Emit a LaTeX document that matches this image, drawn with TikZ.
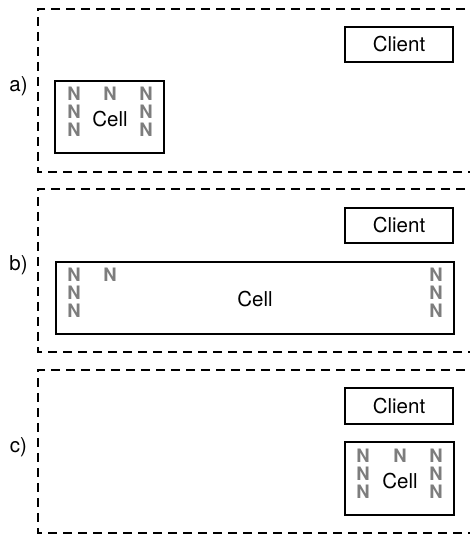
\documentclass[tikz,border=0pt]{standalone}
\usepackage{fontspec}
\setmainfont{TeX Gyre Heros}
\definecolor{ngray}{RGB}{125,125,125}
\begin{document}
\begin{tikzpicture}[x=1pt,y=1pt,
  panel/.style={line width=1.3pt,dash pattern=on 9pt off 6pt},
  boxstyle/.style={draw,line width=1.2pt,rectangle,inner sep=0pt},
  nlab/.style={text=ngray,font=\fontsize{18.5}{18.5}\selectfont\bfseries,inner sep=0pt},
  txt/.style={font=\fontsize{20.5}{20.5}\selectfont,inner sep=0pt},
  lab/.style={font=\fontsize{20.5}{20.5}\selectfont,inner sep=0pt}]
\useasboundingbox (0,0) rectangle (470,536);
\clip (0,0) rectangle (470,536);
% panel a
\draw[panel] (480,527) -- (38,527) -- (38,364) -- (480,364);
\node[lab] (la) at (18.5,450) {a)};
\node[boxstyle,minimum width=108,minimum height=35] (clienta) at (399,491.5) {};
\node[txt] (clientat) at (clienta.center) {Client};
\node[boxstyle,minimum width=109,minimum height=72] (cella) at (109.5,419) {};
\node[txt] (cellat) at (110,417) {Cell};
\node[nlab] (a11) at (74,442) {N};
\node[nlab] (a21) at (74,424) {N};
\node[nlab] (a31) at (74,406) {N};
\node[nlab] (a12) at (110,442) {N};
\node[nlab] (a13) at (146,442) {N};
\node[nlab] (a23) at (146,424) {N};
\node[nlab] (a33) at (146,406) {N};
% panel b
\draw[panel] (480,347) -- (38,347) -- (38,184) -- (480,184);
\node[lab] (lb) at (18.5,271) {b)};
\node[boxstyle,minimum width=108,minimum height=35] (clientb) at (399,310.5) {};
\node[txt] (clientbt) at (clientb.center) {Client};
\node[boxstyle,minimum width=398,minimum height=72] (cellb) at (255,238) {};
\node[txt] (cellbt) at (255,237) {Cell};
\node[nlab] (b11) at (74,261) {N};
\node[nlab] (b21) at (74,243) {N};
\node[nlab] (b31) at (74,225) {N};
\node[nlab] (b12) at (110,261) {N};
\node[nlab] (b13) at (436,261) {N};
\node[nlab] (b23) at (436,243) {N};
\node[nlab] (b33) at (436,225) {N};
% panel c
\draw[panel] (480,166) -- (38,166) -- (38,3) -- (480,3);
\node[lab] (lc) at (18.5,89) {c)};
\node[boxstyle,minimum width=108,minimum height=36] (clientc) at (399,130) {};
\node[txt] (clientct) at (clientc.center) {Client};
\node[boxstyle,minimum width=109,minimum height=73] (cellc) at (399.5,57.5) {};
\node[txt] (cellct) at (400,55) {Cell};
\node[nlab] (c11) at (363,80) {N};
\node[nlab] (c21) at (363,62) {N};
\node[nlab] (c31) at (363,44) {N};
\node[nlab] (c12) at (400,80) {N};
\node[nlab] (c13) at (436,80) {N};
\node[nlab] (c23) at (436,62) {N};
\node[nlab] (c33) at (436,44) {N};
\end{tikzpicture}
\end{document}
